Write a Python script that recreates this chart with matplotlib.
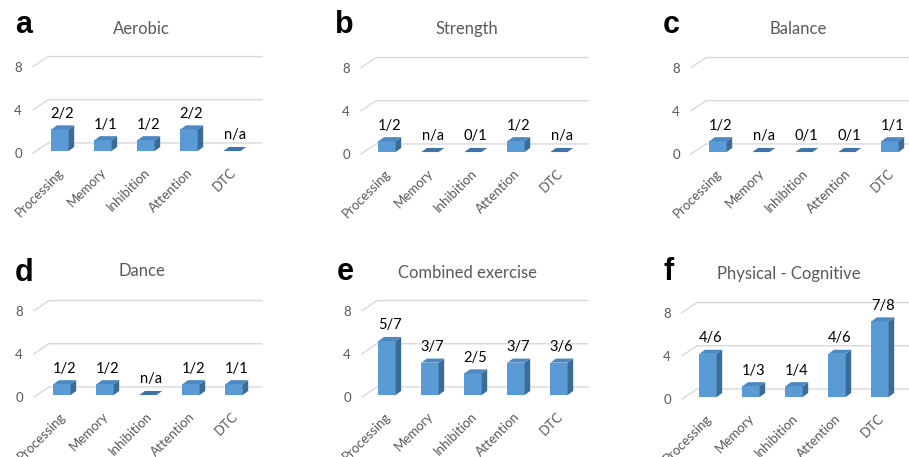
import matplotlib
matplotlib.use('Agg')
import matplotlib.pyplot as plt
from matplotlib.patches import Polygon

# Data
categories = ['Processing', 'Memory', 'Inhibition', 'Attention', 'DTC']
yticks = [0, 4, 8]

panel_letters = ['a', 'b', 'c', 'd', 'e', 'f']
panel_titles = ['Aerobic', 'Strength', 'Balance', 'Dance', 'Combined exercise', 'Physical - Cognitive']

aerobic = [2, 1, 1, 2, 0]
aerobic_lab = ['2/2', '1/1', '1/2', '2/2', 'n/a']
strength = [1, 0, 0, 1, 0]
strength_lab = ['1/2', 'n/a', '0/1', '1/2', 'n/a']
balance = [1, 0, 0, 0, 1]
balance_lab = ['1/2', 'n/a', '0/1', '0/1', '1/1']
dance = [1, 1, 0, 1, 1]
dance_lab = ['1/2', '1/2', 'n/a', '1/2', '1/1']
combined = [5, 3, 2, 3, 3]
combined_lab = ['5/7', '3/7', '2/5', '3/7', '3/6']
physcog = [4, 1, 1, 4, 7]
physcog_lab = ['4/6', '1/3', '1/4', '4/6', '7/8']

values = [aerobic, strength, balance, dance, combined, physcog]
labels = [aerobic_lab, strength_lab, balance_lab, dance_lab, combined_lab, physcog_lab]

# layout in pixels: first bar x, zero line y, grid left, grid right, letter (x, y), title (x, y)
layout = [
    (60, 153, 33, 262, (15, 33), (141, 34)),
    (387, 154, 361, 588, (335, 33), (467, 34)),
    (718, 154, 691, 940, (663, 33), (798, 34)),
    (62, 397, 34, 262, (15, 281), (142, 276)),
    (387, 397, 362, 588, (337, 280), (468, 278)),
    (708, 399, 682, 940, (663, 280), (789, 279)),
]

W, H = 909, 457
SX, SY = 43.0, 10.8          # pixels per category / per unit
B0, BW = 0.18, 0.40          # bar base and width
DX, DY = 0.13, 0.38          # bar depth offset
GDX, GDY = 0.35, 0.93        # gridline slant
YLO, YHI = -1.0, 9.8

FRONT = '#5B9BD5'
TOP = '#4C88C2'
SIDE = '#3B6C98'
FLAT = '#3E74AA'
GRID = '#D9D9D9'
GRAY = '#595959'
FONT = ['Lato', 'DejaVu Sans']

fig = plt.figure(figsize=(W / 100, H / 100), dpi=100)

for k in range(6):
    x0, y0, gl, gr, lpos, tpos = layout[k]
    xl = (gl - x0) / SX
    xr = (gr - x0) / SX
    bottom = y0 - YLO * SY
    top = y0 - YHI * SY
    ax = fig.add_axes([gl / W, 1 - bottom / H, (gr - gl) / W, (bottom - top) / H])
    ax.set_xlim(xl, xr)
    ax.set_ylim(YLO, YHI)
    for s in ax.spines.values():
        s.set_visible(False)
    ax.patch.set_alpha(0)
    ax.set_xticks([])
    ax.set_yticks(yticks)
    ax.set_yticklabels([str(t) for t in yticks], family=FONT)
    ax.tick_params(axis='y', length=0, pad=8, labelcolor=GRAY, labelsize=9.5)

    # perspective gridlines
    for g in yticks:
        ax.plot([xl, xl + GDX, xr], [g, g + GDY, g + GDY], color=GRID, lw=1.0,
                zorder=1, clip_on=False)

    vals = values[k]
    xs = list(range(len(categories)))
    ax.bar(xs, vals, width=BW, bottom=B0, color=FRONT, linewidth=0, zorder=3)
    for i, v in zip(xs, vals):
        l, r = i - BW / 2, i + BW / 2
        t = B0 + v
        topface = [(l, t), (l + DX, t + DY), (r + DX, t + DY), (r, t)]
        if v > 0:
            side = [(r, B0), (r + DX, B0 + DY), (r + DX, t + DY), (r, t)]
            ax.add_patch(Polygon(side, closed=True, color=SIDE, lw=0, zorder=3))
            ax.add_patch(Polygon(topface, closed=True, color=TOP, lw=0, zorder=3))
        else:
            ax.add_patch(Polygon(topface, closed=True, color=FLAT, lw=0, zorder=3))
        ax.text(i + 0.06, t + DY + 0.7, labels[k][i], ha='center', va='baseline',
                fontsize=10.5, color='black', family=FONT, zorder=4)
        ax.text(i + 0.04, -1.6, categories[i], rotation=45, rotation_mode='anchor',
                ha='right', va='center', fontsize=9.5, color=GRAY, family=FONT,
                clip_on=False)

    fig.text(lpos[0] / W, 1 - lpos[1] / H, panel_letters[k], fontsize=22,
             fontweight='bold', family=['Liberation Sans', 'DejaVu Sans'],
             ha='left', va='baseline')
    fig.text(tpos[0] / W, 1 - tpos[1] / H, panel_titles[k], fontsize=12,
             color=GRAY, family=FONT, ha='center', va='baseline')

fig.savefig('out.png', dpi=100)
